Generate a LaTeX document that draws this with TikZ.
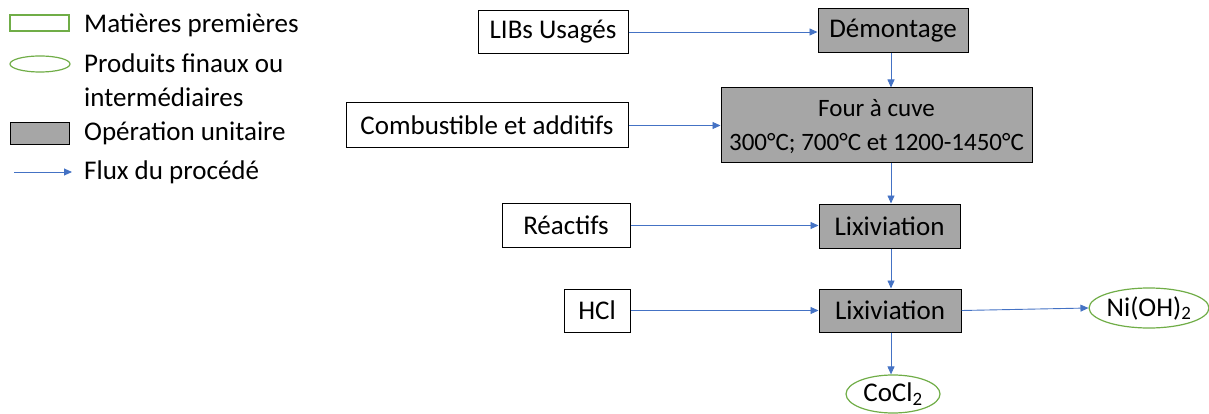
\documentclass[tikz,border=0pt]{standalone}
\usepackage{fontspec}
\setmainfont{Carlito}
\usetikzlibrary{arrows.meta,shapes.geometric}
\definecolor{flow}{HTML}{4472C4}
\definecolor{grn}{HTML}{70AD47}
\definecolor{op}{HTML}{A6A6A6}
\begin{document}
\begin{tikzpicture}[x=1pt,y=-1pt,
  every node/.style={font=\fontsize{27}{32}\selectfont, inner sep=0pt},
  raw/.style={draw=black, line width=1pt, fill=white, rectangle, align=center},
  unit/.style={draw=black, line width=1pt, fill=op, rectangle, align=center},
  prod/.style={draw=grn, line width=1.2pt, ellipse, fill=white},
  flux/.style={draw=flow, line width=0.9pt, -{Triangle[length=8pt,width=7pt]}},
  legtxt/.style={anchor=west, align=left}]
\useasboundingbox (0,0) rectangle (1209,414);
% legend
\node[draw=grn, line width=1.2pt, minimum width=59pt, minimum height=16pt] (lg1) at (39.5,23) {};
\node[prod, minimum width=60pt, minimum height=16pt] (lg2) at (40,64) {};
\node[unit, minimum width=59pt, minimum height=22pt] (lg3) at (39.5,134) {};
\coordinate (lg4a) at (14,172);
\coordinate (lg4b) at (72,172);
\draw[flux] (lg4a) -- (lg4b);
\node[legtxt] (t1) at (84,25) {Matières premières};
\node[legtxt] (t2) at (84,63) {Produits finaux ou};
\node[legtxt] (t2b) at (84,97) {intermédiaires};
\node[legtxt] (t3) at (84,133) {Opération unitaire};
\node[legtxt] (t4) at (84,172) {Flux du procédé};
% process
\node[raw, minimum width=150pt, minimum height=43pt] (libs) at (553,32) {LIBs Usagés};
\node[unit, minimum width=150pt, minimum height=44pt] (dem) at (893,31) {Démontage};
\node[unit, minimum width=311pt, minimum height=75pt, font=\fontsize{25}{34}\selectfont, text depth=2pt] (four) at (876.5,125.5) {Four à cuve\\300°C; 700°C et 1200-1450°C};
\node[raw, minimum width=282pt, minimum height=45pt] (comb) at (487,125.5) {Combustible et additifs};
\node[raw, minimum width=128pt, minimum height=44pt] (reac) at (566,225.5) {Réactifs};
\node[unit, minimum width=141pt, minimum height=44pt] (lix1) at (889.5,226) {Lixiviation};
\node[raw, minimum width=66pt, minimum height=43pt] (hcl) at (597,310.5) {HCl};
\node[unit, minimum width=142pt, minimum height=43pt] (lix2) at (890,310.5) {Lixiviation};
\node[prod, minimum width=94pt, minimum height=38pt] (cocl) at (893,394) {CoCl\textsubscript{2}};
\node[prod, minimum width=112pt, minimum height=40pt] (nioh) at (1149,308) {Ni(OH)\textsubscript{2}};
\coordinate (cx) at (891,0);
\draw[flux] (libs.east) -- (libs.east -| dem.west);
\draw[flux] (cx |- dem.south) -- (cx |- four.north);
\draw[flux] (comb.east) -- (comb.east -| four.west);
\draw[flux] (cx |- four.south) -- (cx |- lix1.north);
\draw[flux] (reac.east) -- (reac.east -| lix1.west);
\draw[flux] (cx |- lix1.south) -- (cx |- lix2.north);
\draw[flux] (hcl.east) -- (hcl.east -| lix2.west);
\draw[flux] (lix2.east) -- (nioh.west);
\draw[flux] (cx |- lix2.south) -- (cx |- cocl.north);
\end{tikzpicture}
\end{document}
